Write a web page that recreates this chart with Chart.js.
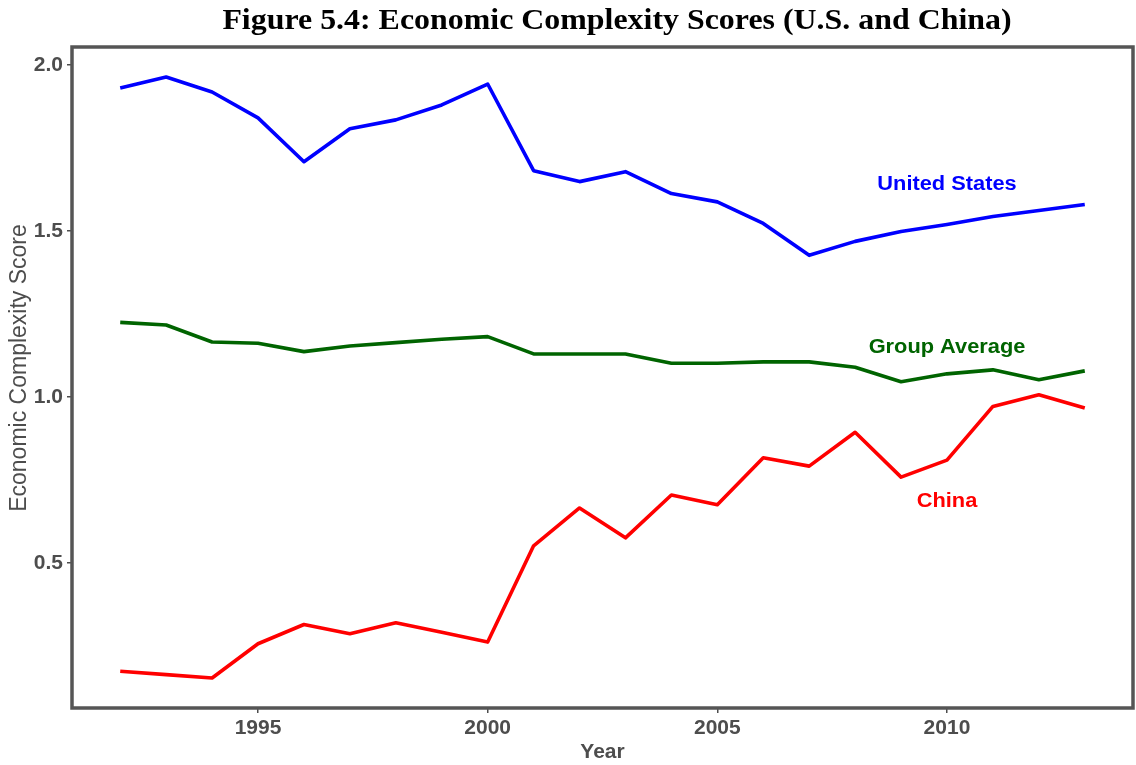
<!DOCTYPE html>
<html>
<head>
<meta charset="utf-8">
<script src="https://cdn.jsdelivr.net/npm/chart.js@4.4.1/dist/chart.umd.min.js"></script>
<style>
  html, body { margin: 0; padding: 0; background: #ffffff; }
  #wrap { width: 1136px; height: 765px; position: relative; }
  canvas { display: block; }
</style>
</head>
<body>
<div id="wrap"><canvas id="c" width="1136" height="765"></canvas></div>
<script>
// ---- data ----
const years = [1992, 1993, 1994, 1995, 1996, 1997, 1998, 1999, 2000, 2001, 2002,
               2003, 2004, 2005, 2006, 2007, 2008, 2009, 2010, 2011, 2012, 2013];
const usScores = [1.931, 1.964, 1.919, 1.841, 1.709, 1.808, 1.835, 1.880, 1.943, 1.682, 1.649,
                  1.679, 1.613, 1.588, 1.523, 1.427, 1.469, 1.499, 1.520, 1.544, 1.562, 1.580];
const groupAverage = [1.225, 1.217, 1.166, 1.162, 1.137, 1.154, 1.164, 1.174, 1.182, 1.130, 1.130,
                      1.130, 1.102, 1.102, 1.106, 1.106, 1.090, 1.046, 1.070, 1.082, 1.052, 1.079];
const chinaScores = [0.174, 0.164, 0.154, 0.257, 0.315, 0.287, 0.320, 0.292, 0.262, 0.552, 0.666,
                     0.576, 0.705, 0.676, 0.817, 0.792, 0.894, 0.759, 0.810, 0.972, 1.007, 0.967];
const xTickValues = [1995, 2000, 2005, 2010];
const yTickValues = [0.5, 1.0, 1.5, 2.0];
const seriesNames = ['United States', 'Group Average', 'China'];
const labelTexts = ['United States', 'Group Average', 'China'];
const labelYears = [2010, 2010, 2010];
const labelScores = [1.64, 1.15, 0.685];
const titleText = 'Figure 5.4: Economic Complexity Scores (U.S. and China)';
const xTitle = 'Year';
const yTitle = 'Economic Complexity Score';

// ---- styles ----
const colors = ['#0000FF', '#006400', '#FF0000'];
const SANS = '"Liberation Sans", Arial, sans-serif';
const SERIF = '"Liberation Serif", "Times New Roman", serif';
const AXIS_GREY = '#4D4D4D';

const seriesValues = [usScores, groupAverage, chinaScores];
const datasets = seriesValues.map((vals, i) => ({
  label: seriesNames[i],
  data: years.map((yr, k) => ({ x: yr, y: vals[k] })),
  borderColor: colors[i],
  backgroundColor: colors[i],
  borderWidth: 3.6,
  pointRadius: 0,
  tension: 0,
  borderJoinStyle: 'round',
  borderCapStyle: 'butt',
  fill: false
}));

const bgPlugin = {
  id: 'bg',
  beforeDraw(chart) {
    const ctx = chart.ctx;
    ctx.save();
    ctx.fillStyle = '#ffffff';
    ctx.fillRect(0, 0, chart.width, chart.height);
    ctx.restore();
  }
};

const framePlugin = {
  id: 'frame',
  afterDraw(chart) {
    const a = chart.chartArea;
    const ctx = chart.ctx;
    ctx.save();
    ctx.strokeStyle = '#555555';
    ctx.lineWidth = 3.5;
    ctx.strokeRect(a.left, a.top, a.right - a.left, a.bottom - a.top);
    ctx.restore();
  }
};

function stretchedText(ctx, text, x, y, sx) {
  ctx.save();
  ctx.translate(x, y);
  ctx.scale(sx, 1);
  ctx.fillText(text, 0, 0);
  ctx.restore();
}

const labelPlugin = {
  id: 'seriesLabels',
  afterDatasetsDraw(chart) {
    const ctx = chart.ctx;
    const xs = chart.scales.x, ys = chart.scales.y;
    ctx.save();
    ctx.font = 'bold 20px ' + SANS;
    ctx.textAlign = 'center';
    ctx.textBaseline = 'middle';
    labelTexts.forEach((t, i) => {
      ctx.fillStyle = colors[i];
      stretchedText(ctx, t, xs.getPixelForValue(labelYears[i]), ys.getPixelForValue(labelScores[i]), 1.09);
    });
    ctx.restore();
  }
};

const titlePlugin = {
  id: 'figTitle',
  afterDraw(chart) {
    const ctx = chart.ctx;
    ctx.save();
    ctx.font = 'bold 29px ' + SERIF;
    ctx.fillStyle = '#000000';
    ctx.textAlign = 'center';
    ctx.textBaseline = 'alphabetic';
    stretchedText(ctx, titleText, 617, 29, 1.10);
    // y axis title
    ctx.font = '23px ' + SANS;
    ctx.fillStyle = AXIS_GREY;
    ctx.textBaseline = 'middle';
    ctx.translate(20, 368);
    ctx.rotate(-Math.PI / 2);
    ctx.fillText(yTitle, 0, 0);
    ctx.restore();
  }
};

new Chart(document.getElementById('c'), {
  type: 'line',
  data: { datasets },
  plugins: [bgPlugin, labelPlugin, framePlugin, titlePlugin],
  options: {
    responsive: false,
    animation: false,
    devicePixelRatio: 1,
    layout: { padding: { top: 47, right: 3, left: 0, bottom: 0 } },
    plugins: {
      legend: { display: false },
      tooltip: { enabled: false },
      title: { display: false }
    },
    scales: {
      x: {
        type: 'linear',
        min: 1990.95,
        max: 2014.05,
        afterBuildTicks(s) { s.ticks = xTickValues.map(v => ({ value: v })); },
        afterFit(s) { s.height = 57; },
        ticks: {
          autoSkip: false,
          maxRotation: 0,
          padding: 3,
          color: AXIS_GREY,
          font: { family: SANS, size: 21, weight: 'bold' },
          callback: v => String(v)
        },
        grid: { drawOnChartArea: false, drawTicks: true, tickLength: 5, color: AXIS_GREY, lineWidth: 1.5 },
        border: { display: false },
        title: {
          display: true,
          text: xTitle,
          color: AXIS_GREY,
          font: { family: SANS, size: 21, weight: 'bold' },
          padding: { top: 0, bottom: 0 }
        }
      },
      y: {
        type: 'linear',
        min: 0.0635,
        max: 2.0545,
        afterBuildTicks(s) { s.ticks = yTickValues.map(v => ({ value: v })); },
        afterFit(s) { s.width = 72; },
        ticks: {
          padding: 4,
          color: AXIS_GREY,
          font: { family: SANS, size: 21, weight: 'bold' },
          callback: v => Number(v).toFixed(1)
        },
        grid: { drawOnChartArea: false, drawTicks: true, tickLength: 5, color: AXIS_GREY, lineWidth: 1.5 },
        border: { display: false },
        title: { display: false }
      }
    }
  }
});
</script>
</body>
</html>
